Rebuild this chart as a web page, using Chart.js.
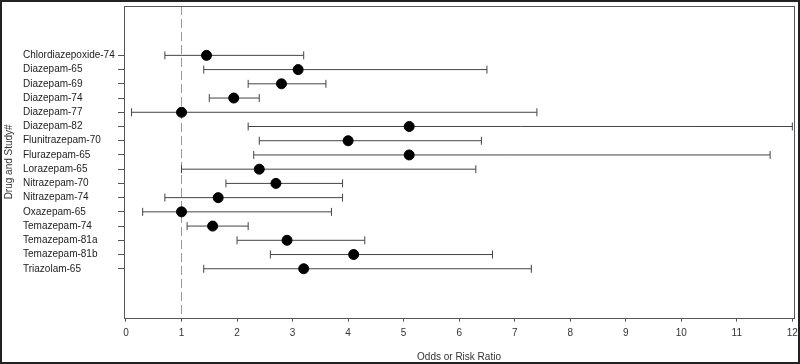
<!DOCTYPE html>
<html>
<head>
<meta charset="utf-8">
<script src="https://cdn.jsdelivr.net/npm/chart.js@4"></script>
<style>
  body { margin: 0; background: #fff; }
  #wrap { width: 800px; height: 364px; position: relative; }
</style>
</head>
<body>
<div id="wrap"><canvas id="myChart"></canvas></div>
<script>
// values
const drugs = ['Chlordiazepoxide-74', 'Diazepam-65', 'Diazepam-69', 'Diazepam-74', 'Diazepam-77',
    'Diazepam-82', 'Flunitrazepam-70', 'Flurazepam-65', 'Lorazepam-65', 'Nitrazepam-70',
    'Nitrazepam-74', 'Oxazepam-65', 'Temazepam-74', 'Temazepam-81a', 'Temazepam-81b', 'Triazolam-65'];
const estimates = [1.45, 3.1, 2.8, 1.94, 1.0, 5.1, 4.0, 5.1, 2.4, 2.7, 1.66, 1.0, 1.56, 2.9, 4.1, 3.2];
const lower = [0.7, 1.4, 2.2, 1.5, 0.1, 2.2, 2.4, 2.3, 1.0, 1.8, 0.7, 0.3, 1.1, 2.0, 2.6, 1.4];
const upper = [3.2, 6.5, 3.6, 2.4, 7.4, 12.0, 6.4, 11.6, 6.3, 3.9, 3.9, 3.7, 2.2, 4.3, 6.6, 7.3];
const xTicks = [0, 1, 2, 3, 4, 5, 6, 7, 8, 9, 10, 11, 12];
const refLine = 1;

const yMin = -3.47, yMax = 18.44;
const font = { family: '"Liberation Sans", Arial, sans-serif', size: 10 };

function chart () {
    // error bars as one broken line, caps as rotated 'line' points
    let bars = [];
    drugs.forEach((d, i) => {
        bars.push({x: lower[i], y: i}, {x: upper[i], y: i}, {x: null, y: null});
    });
    let points = estimates.map((v, i) => ({x: v, y: i}));

    const framePlugin = {
        id: 'frame',
        afterDraw (c) {
            const ctx = c.ctx;
            const a = c.chartArea;
            ctx.save();
            ctx.strokeStyle = '#555';
            ctx.lineWidth = 1;
            ctx.strokeRect(Math.round(a.left) + 0.5, Math.round(a.top) + 0.5,
                Math.round(a.right - a.left), Math.round(a.bottom - a.top));
            ctx.strokeStyle = '#222';
            ctx.lineWidth = 2;
            ctx.strokeRect(1, 1, c.width - 2, c.height - 2);
            ctx.restore();
        }
    };

    const ctx = document.getElementById('myChart').getContext('2d');
    new Chart(ctx, {
        type: 'scatter',
        data: {
            datasets: [{
                data: points,
                order: 0,
                pointRadius: 5,
                pointBackgroundColor: '#000',
                pointBorderColor: '#000',
                showLine: false
            }, {
                data: bars,
                order: 1,
                showLine: true,
                spanGaps: false,
                borderColor: '#444',
                borderWidth: 1,
                pointStyle: 'line',
                pointRotation: 90,
                pointRadius: 4,
                pointBorderWidth: 1,
                pointBorderColor: '#444'
            }, {
                data: [{x: refLine, y: yMin}, {x: refLine, y: yMax}],
                order: 2,
                showLine: true,
                borderColor: '#999',
                borderWidth: 1,
                borderDash: [9, 4],
                pointRadius: 0
            }]
        },
        options: {
            responsive: true,
            maintainAspectRatio: false,
            animation: false,
            layout: { padding: { top: 5.5, right: 5.5, left: 23, bottom: 0 } },
            plugins: { legend: { display: false }, tooltip: { enabled: false } },
            scales: {
                x: {
                    type: 'linear',
                    min: -0.036,
                    max: 12.03,
                    afterBuildTicks: s => { s.ticks = xTicks.map(v => ({value: v})); },
                    afterFit: s => { s.height = 46.3; s.paddingLeft = 0; s.paddingRight = 0; },
                    grid: { drawOnChartArea: false, drawTicks: true, tickLength: 4, color: '#555' },
                    border: { display: false },
                    ticks: { font: font, color: '#333', padding: 6, autoSkip: false, maxRotation: 0 },
                    title: { display: true, text: 'Odds or Risk Ratio', font: font, color: '#333', padding: { top: 0, bottom: 1 } }
                },
                y: {
                    type: 'linear',
                    reverse: true,
                    min: yMin,
                    max: yMax,
                    afterBuildTicks: s => { s.ticks = drugs.map((d, i) => ({value: i})); },
                    afterFit: s => { s.width = 101; s.paddingTop = 0; s.paddingBottom = 0; },
                    grid: { drawOnChartArea: false, drawTicks: true, tickLength: 6, color: '#555' },
                    border: { display: false },
                    ticks: {
                        font: font, color: '#222', padding: 6, autoSkip: false, crossAlign: 'far',
                        callback: v => drugs[v]
                    },
                    title: { display: true, text: 'Drug and Study#', font: font, color: '#333', padding: { top: -19.5, bottom: 0 } }
                }
            }
        },
        plugins: [framePlugin]
    });
}

window.onload = chart;
</script>
</body>
</html>
